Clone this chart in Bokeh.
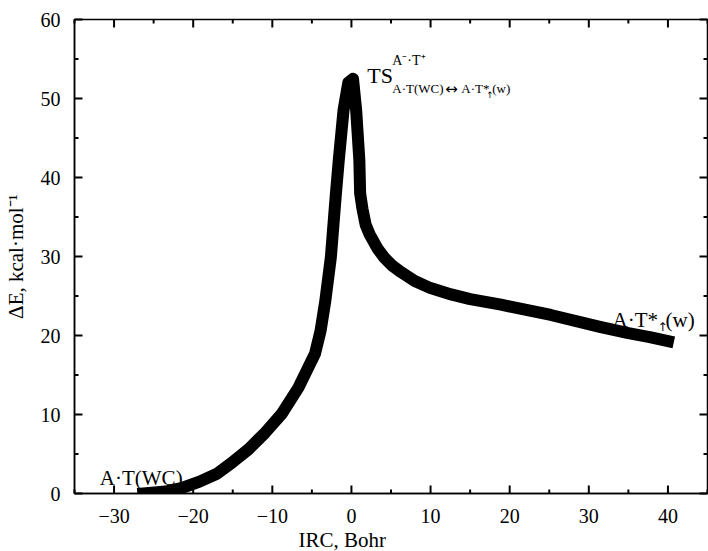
from bokeh.plotting import figure
from bokeh.models import Label, Range1d, FixedTicker, Title
from bokeh.embed import file_html
from bokeh.resources import INLINE

# IRC profile
irc = [-26.3, -23.5, -21.4, -19.2, -17.0, -15.1, -13.0, -10.9, -8.8, -6.7, -4.6,
       -3.9, -3.3, -2.6, -2.0, -1.6, -1.0, -0.4, 0.2, 0.6, 1.0, 1.1, 1.4, 1.8,
       2.3, 3.3, 4.2, 5.2, 6.3, 8.0, 10.0, 12.6, 15.0, 18.9, 25.2, 31.4, 35.0,
       37.7, 40.0]
dE = [0.0, 0.25, 0.7, 1.5, 2.5, 3.9, 5.6, 7.7, 10.1, 13.4, 17.7,
      20.6, 24.4, 29.9, 37.5, 42.2, 48.5, 52.0, 52.5, 48.5, 42.2, 38.0, 36.0, 34.0,
      32.8, 31.0, 29.8, 28.8, 28.0, 26.9, 26.0, 25.2, 24.6, 23.9, 22.6, 21.1, 20.3,
      19.8, 19.3]

x_ticks = [-30, -20, -10, 0, 10, 20, 30, 40]
x_minor = [-35, -25, -15, -5, 5, 15, 25, 35, 45]
y_ticks = [0, 10, 20, 30, 40, 50, 60]
y_minor = [5, 15, 25, 35, 45, 55]

X_LO, X_HI = -35, 45
Y_LO, Y_HI = 0, 60

W, H = 708, 551
B_LEFT, B_RIGHT, B_TOP, B_BOTTOM = 73, 1, 19, 58
FRAME_W = W - B_LEFT - B_RIGHT
FRAME_H = H - B_TOP - B_BOTTOM
DX = (X_HI - X_LO) / FRAME_W   # data units per pixel
DY = (Y_HI - Y_LO) / FRAME_H

MAJOR, MINOR, TW = 8, 4, 2

FONT = "Liberation Serif"
ARROW_FONT = "DejaVu Sans"
UP = "\u2191\ufe0e"
LR = "\u2194\ufe0e"

p = figure(width=W, height=H, output_backend="svg", toolbar_location=None,
           x_range=Range1d(X_LO, X_HI), y_range=Range1d(Y_LO, Y_HI),
           min_border_left=B_LEFT, min_border_right=B_RIGHT,
           min_border_top=B_TOP, min_border_bottom=B_BOTTOM)
p.grid.visible = False
p.outline_line_color = "black"
p.outline_line_width = 1.5

p.line(irc, dE, line_width=12, line_color="black", line_join="round",
       line_cap="square")

# inward ticks on all four edges, drawn on top of everything
def x_edge_ticks(vals, length_px):
    n = len(vals)
    L = length_px * DY
    p.segment(vals, [Y_LO] * n, vals, [Y_LO + L] * n,
              line_color="black", line_width=TW, level="overlay")
    p.segment(vals, [Y_HI] * n, vals, [Y_HI - L] * n,
              line_color="black", line_width=TW, level="overlay")

def y_edge_ticks(vals, length_px):
    n = len(vals)
    L = length_px * DX
    p.segment([X_LO] * n, vals, [X_LO + L] * n, vals,
              line_color="black", line_width=TW, level="overlay")
    p.segment([X_HI] * n, vals, [X_HI - L] * n, vals,
              line_color="black", line_width=TW, level="overlay")

x_edge_ticks(x_ticks, MAJOR)
x_edge_ticks(x_minor, MINOR)
y_edge_ticks(y_ticks, MAJOR)
y_edge_ticks(y_minor, MINOR)

def style(ax):
    ax.major_tick_line_color = None
    ax.minor_tick_line_color = None
    ax.axis_line_width = 1.5
    ax.axis_line_color = "black"
    ax.major_label_text_font = FONT
    ax.major_label_text_font_size = "20px"
    ax.major_label_text_color = "black"
    ax.axis_label_text_font = FONT
    ax.axis_label_text_font_size = "21px"
    ax.axis_label_text_font_style = "normal"
    ax.axis_label_text_color = "black"

xa = p.xaxis[0]
xa.ticker = FixedTicker(ticks=x_ticks, minor_ticks=x_minor)
style(xa)
xa.major_tick_out = 0
xa.major_label_standoff = 11

ya = p.yaxis[0]
ya.ticker = FixedTicker(ticks=y_ticks, minor_ticks=y_minor)
style(ya)
ya.major_tick_out = 0
ya.axis_label = "ΔE, kcal·mol⁻¹"
ya.major_label_standoff = 10
ya.axis_label_standoff = 10

# x-axis title, under the 0 tick as in the original
p.add_layout(Title(text="IRC, Bohr", align="left", offset=224, standoff=0,
                   text_font=FONT, text_font_size="21px",
                   text_font_style="normal", text_color="black"), "below")

def lab(x, y, text, size, dx=0, dy=0, font=FONT):
    p.add_layout(Label(x=x, y=y, text=text, x_offset=dx, y_offset=dy,
                       text_font=font, text_font_size=size,
                       text_baseline="alphabetic", text_align="left",
                       text_color="black"))

# state labels
lab(-31.8, 2.0, "A·T(WC)", "21px")

lab(33.0, 22.0, "A·T*", "21px")
lab(33.0, 22.0, UP, "12px", 45, -7, font=ARROW_FONT)
lab(33.0, 22.0, "(w)", "21px", 53, 0)

lab(2.0, 52.9, "TS", "22px")
lab(2.0, 52.9, "A⁻·T⁺", "14px", 25, 15)
lab(2.0, 52.9, "A·T(WC)", "13px", 25, -13)
lab(2.0, 52.9, LR, "15px", 78, -13, font=ARROW_FONT)
lab(2.0, 52.9, "A·T*", "13px", 94, -13)
lab(2.0, 52.9, UP, "9px", 119, -19, font=ARROW_FONT)
lab(2.0, 52.9, "(w)", "13px", 125, -13)

open("out.html", "w").write(file_html(p, INLINE))
